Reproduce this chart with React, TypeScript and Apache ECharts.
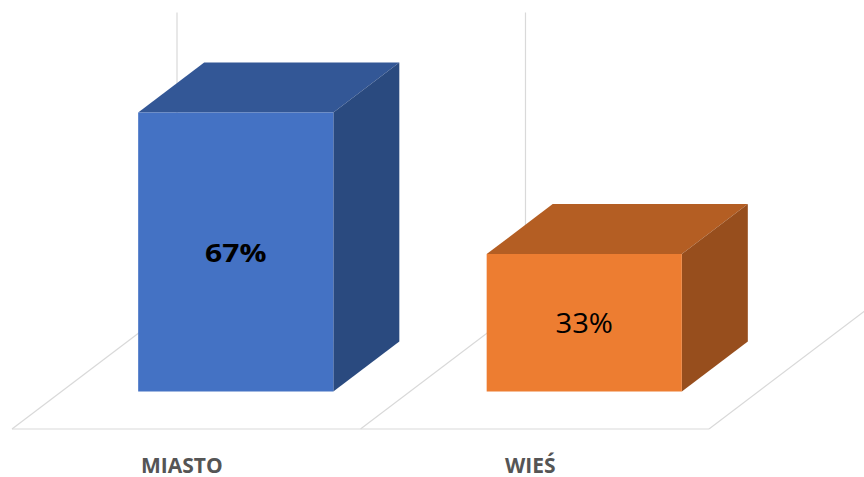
import React, { useEffect, useRef } from "react";
import * as echarts from "echarts";

// ---- data ----
const categories = ["MIASTO", "WIEŚ"];
const values = [0.67, 0.33];
const valueLabels = ["67%", "33%"];
const axisMax = 0.7;

// ---- styles ----
const frontColors = ["#4472C4", "#ED7D31"];
const topColors = ["#335796", "#B45E23"];
const sideColors = ["#2A4A7F", "#974E1D"];
const labelFonts = [
  { weight: "bold", size: 25, scaleX: 1.2 },
  { weight: "normal", size: 27, scaleX: 1.08 },
];

// ---- 3D geometry (pixels) ----
const FLOOR_DX = 165;
const FLOOR_DY = -125;
const BAR_OFF_X = 49.5;
const BAR_OFF_Y = -37.5;
const BAR_DX = 66;
const BAR_DY = -50;
const BAR_W_RATIO = 0.56;
const GRID_COLOR = "#D9D9D9";

export default function App() {
  const ref = useRef<HTMLDivElement>(null);

  useEffect(() => {
    if (!ref.current) return;
    const chart = echarts.init(ref.current, undefined, { renderer: "svg" });

    const floorItem = (params: any, api: any) => {
      const idx = api.value(0);
      const c = api.coord([idx, 0]);
      const topY = api.coord([idx, axisMax])[1];
      const bw = api.size([1, 0])[0];
      const left = c[0] - bw / 2;
      const ls = { stroke: GRID_COLOR, lineWidth: 1.2, fill: null };
      const edge = (x: number) => [
        {
          type: "line",
          shape: { x1: x, y1: c[1], x2: x + FLOOR_DX, y2: c[1] + FLOOR_DY },
          style: ls,
        },
        {
          type: "line",
          shape: {
            x1: x + FLOOR_DX,
            y1: c[1] + FLOOR_DY,
            x2: x + FLOOR_DX,
            y2: topY + FLOOR_DY,
          },
          style: ls,
        },
      ];
      const children: any[] = [
        {
          type: "line",
          shape: { x1: left, y1: c[1], x2: left + bw, y2: c[1] },
          style: ls,
        },
        ...edge(left),
      ];
      if (params.dataIndex === categories.length - 1) {
        children.push(...edge(left + bw));
      }
      return { type: "group", children };
    };

    const barItem = (params: any, api: any) => {
      const i = params.dataIndex;
      const idx = api.value(0);
      const c = api.coord([idx, 0]);
      const t = api.coord([idx, api.value(1)]);
      const bw = api.size([1, 0])[0];
      const w = bw * BAR_W_RATIO;
      const x0 = c[0] + BAR_OFF_X - w / 2;
      const x1 = x0 + w;
      const yb = c[1] + BAR_OFF_Y;
      const yt = t[1] + BAR_OFF_Y;
      const f = labelFonts[i];
      return {
        type: "group",
        children: [
          {
            type: "polygon",
            shape: {
              points: [
                [x0, yt],
                [x1, yt],
                [x1 + BAR_DX, yt + BAR_DY],
                [x0 + BAR_DX, yt + BAR_DY],
              ],
            },
            style: { fill: topColors[i] },
          },
          {
            type: "polygon",
            shape: {
              points: [
                [x1, yt],
                [x1 + BAR_DX, yt + BAR_DY],
                [x1 + BAR_DX, yb + BAR_DY],
                [x1, yb],
              ],
            },
            style: { fill: sideColors[i] },
          },
          {
            type: "rect",
            shape: { x: x0, y: yt, width: w, height: yb - yt },
            style: { fill: frontColors[i] },
          },
          {
            type: "text",
            x: (x0 + x1) / 2,
            y: (yt + yb) / 2,
            scaleX: f.scaleX,
            style: {
              text: valueLabels[i],
              x: 0,
              y: 0,
              align: "center",
              verticalAlign: "middle",
              fill: "#000000",
              fontFamily: "Open Sans",
              fontWeight: f.weight,
              fontSize: f.size,
            },
          },
        ],
      };
    };

    chart.setOption({
      animation: false,
      backgroundColor: "#ffffff",
      grid: { left: 12, right: 155, top: 137.5, bottom: 48, containLabel: false },
      xAxis: {
        type: "category",
        data: categories,
        axisLine: { show: false },
        axisTick: { show: false },
        splitLine: { show: false },
        axisLabel: {
          margin: 25,
          fontSize: 21,
          fontWeight: "bold",
          color: "#555555",
          fontFamily: "Open Sans",
          padding: [0, 9, 0, 0],
        },
      },
      yAxis: {
        type: "value",
        min: 0,
        max: axisMax,
        show: false,
      },
      series: [
        {
          type: "custom",
          silent: true,
          z: 1,
          renderItem: floorItem,
          data: categories.map((_, i) => [i, 0]),
        },
        {
          type: "custom",
          silent: true,
          z: 2,
          renderItem: barItem,
          data: values.map((v, i) => [i, v]),
        },
      ],
    });

    return () => chart.dispose();
  }, []);

  return (
    <div
      ref={ref}
      style={{ position: "absolute", left: 0, top: 0, width: 864, height: 477 }}
    />
  );
}
